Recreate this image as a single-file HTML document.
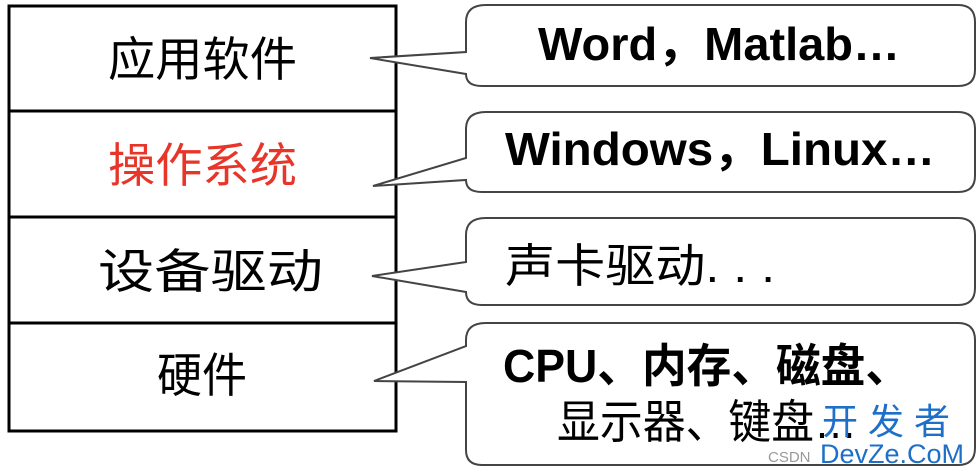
<!DOCTYPE html>
<html><head><meta charset="utf-8"><style>
html,body{margin:0;padding:0;background:#fff;width:980px;height:472px;overflow:hidden}
svg{display:block}
text{font-family:"Liberation Sans","Noto Sans CJK SC",sans-serif}
</style></head><body>
<svg width="980" height="472" viewBox="0 0 980 472">
<g fill="none" stroke="#000" stroke-width="3">
<rect x="9" y="6" width="387" height="425"/>
<line x1="9" y1="111" x2="396" y2="111"/>
<line x1="9" y1="217" x2="396" y2="217"/>
<line x1="9" y1="323" x2="396" y2="323"/>
</g>
<g fill="#fff" stroke="#444" stroke-width="2">
<path d="M486,5 H958 Q975,5 975,22 V70 Q975,86 958,86 H482 Q466,86 466,74 L370,58 L466,52 V22 Q466,5 486,5 Z"/>
<path d="M486,112 H958 Q975,112 975,129 V176 Q975,192 958,192 H482 Q466,192 466,180 L373,186 L466,158 V129 Q466,112 486,112 Z"/>
<path d="M486,218 H958 Q975,218 975,235 V288 Q975,305 958,305 H482 Q466,305 466,292 L372,276 L466,262 V235 Q466,218 486,218 Z"/>
<path d="M486,323 H958 Q975,323 975,340 V448 Q975,465 958,465 H482 Q466,465 466,450 V382 L374,381 L466,346 V340 Q466,323 486,323 Z"/>
</g>
<g font-size="47" lengthAdjust="spacingAndGlyphs">
<text x="108" y="76" textLength="189" lengthAdjust="spacingAndGlyphs">应用软件</text>
<text x="108" y="182" textLength="189" lengthAdjust="spacingAndGlyphs" fill="#e8352a">操作系统</text>
<text x="98" y="288" textLength="225" lengthAdjust="spacingAndGlyphs">设备驱动</text>
<text x="157" y="392" textLength="90" lengthAdjust="spacingAndGlyphs">硬件</text>
</g>
<g font-size="46" font-weight="bold">
<text x="538" y="60" textLength="362" lengthAdjust="spacingAndGlyphs">Word，Matlab…</text>
<text x="505" y="165" textLength="430" lengthAdjust="spacingAndGlyphs">Windows，Linux…</text>
<text x="503" y="382" textLength="407" lengthAdjust="spacingAndGlyphs">CPU、内存、磁盘、</text>
</g>
<g font-size="46">
<text x="505" y="282" textLength="270" lengthAdjust="spacingAndGlyphs">声卡驱动. . .</text>
<text x="557" y="438" textLength="300" lengthAdjust="spacingAndGlyphs">显示器、键盘…</text>
</g>
<text x="822" y="434" font-size="36" fill="#1e6fc8">开 发 者</text>
<text x="820" y="463" font-size="27" fill="#1e6fc8">DevZe.CoM</text>
<text x="768" y="462" font-size="15" fill="#999">CSDN</text>
</svg>
</body></html>
